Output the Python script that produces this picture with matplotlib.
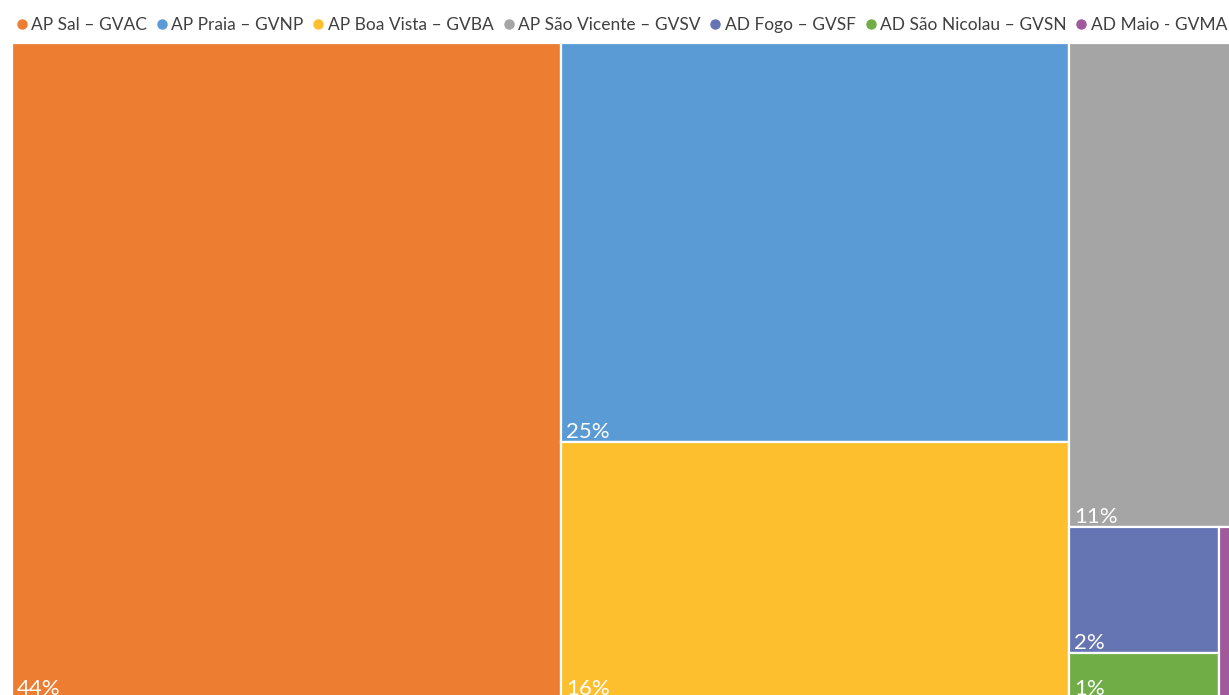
import matplotlib.pyplot as plt
from matplotlib.patches import Rectangle
from matplotlib.lines import Line2D

# airport share of traffic (percent)
airports = [
    "AP Sal – GVAC",
    "AP Praia – GVNP",
    "AP Boa Vista – GVBA",
    "AP São Vicente – GVSV",
    "AD Fogo – GVSF",
    "AD São Nicolau – GVSN",
    "AD Maio - GVMA",
]
shares = [44.1, 24.8, 16.0, 11.0, 2.3, 0.84, 0.76]
labels = ["44%", "25%", "16%", "11%", "2%", "1%", "1%"]
colors = ["#ED7D31", "#5B9BD5", "#FEBF2F", "#A5A5A5", "#6574B2", "#70AD47", "#A05A9C"]

# nesting used by the treemap: 'h' = side by side, 'v' = stacked top to bottom
layout = ("h", [0, ("v", [1, 2]),
                ("v", [3, ("h", [("v", [4, 5]), 6])])])


def node_value(node):
    if isinstance(node, int):
        return shares[node]
    return sum(node_value(c) for c in node[1])


def place(node, x, y, w, h, out):
    """y is the top edge; axis runs downward."""
    if isinstance(node, int):
        out[node] = (x, y, w, h)
        return
    direction, children = node
    total = node_value(node)
    pos = 0.0
    for c in children:
        frac = node_value(c) / total
        if direction == "h":
            place(c, x + pos * w, y, w * frac, h, out)
        else:
            place(c, x, y + pos * h, w, h * frac, out)
        pos += frac


rects = {}
place(layout, 0.0, 0.0, 1.0, 1.0, rects)

plt.rcParams["font.family"] = ["Lato", "DejaVu Sans"]
fig = plt.figure(figsize=(12.29, 6.95), dpi=100)
ax = fig.add_axes([12 / 1229, -4 / 695, 1243 / 1229, 656 / 695])
ax.set_xlim(0, 1)
ax.set_ylim(1, 0)
ax.axis("off")

for i, (x, y, w, h) in rects.items():
    ax.add_patch(Rectangle((x, y), w, h, facecolor=colors[i],
                           edgecolor="white", linewidth=1.6))
    # too narrow boxes get no label, like the original
    if w < 0.04:
        continue
    ax.annotate(labels[i], (x, y + h), xytext=(5, 4), textcoords="offset pixels",
                color="white", fontsize=16, ha="left", va="baseline")

handles = [Line2D([], [], marker="o", linestyle="none", markersize=6.5,
                  markerfacecolor=c, markeredgecolor=c) for c in colors]
fig.legend(handles, airports, loc="center", bbox_to_anchor=(0.506, 0.964),
           ncol=7, frameon=False, fontsize=12.5, handlelength=0.6,
           handletextpad=0.25, columnspacing=0.55, labelcolor="#404040",
           borderaxespad=0, borderpad=0)

fig.savefig("out.png", dpi=100)
